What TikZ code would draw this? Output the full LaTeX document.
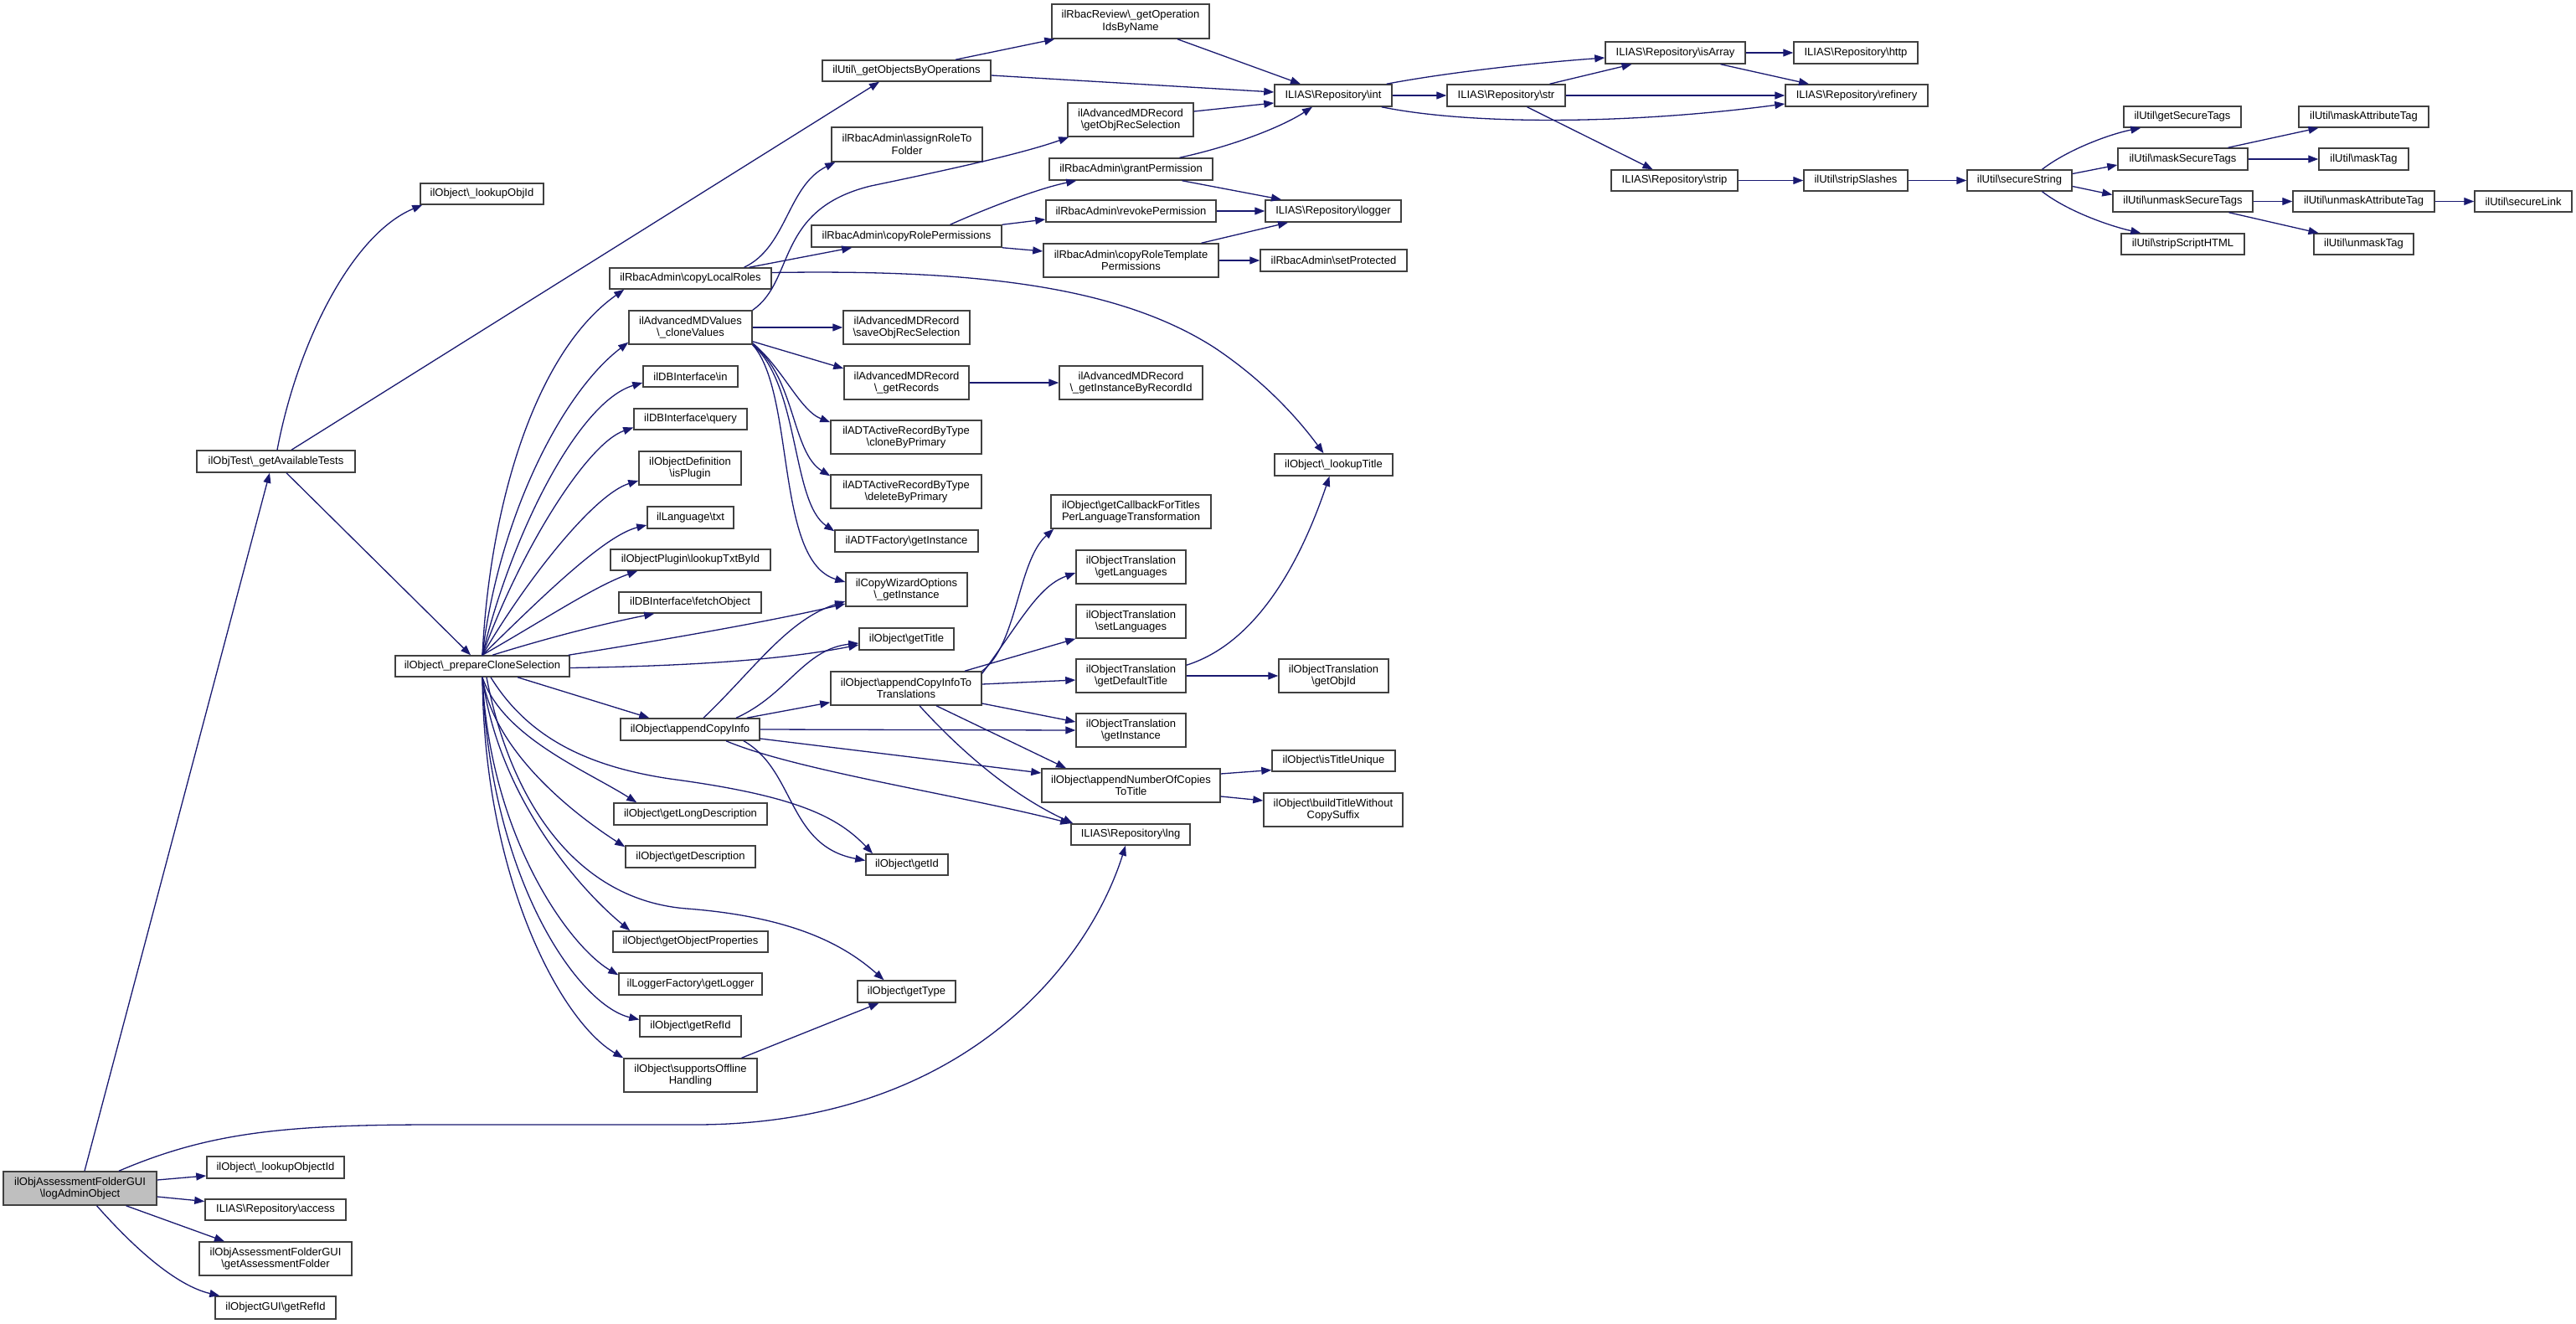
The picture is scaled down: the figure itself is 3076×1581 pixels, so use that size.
\documentclass[tikz,border=0pt]{standalone}
\usepackage{fontspec}
\setmainfont{Liberation Sans}
\usetikzlibrary{arrows.meta}
\definecolor{edgec}{HTML}{191970}
\definecolor{boxc}{HTML}{404040}
\definecolor{mainfill}{HTML}{BFBFBF}
\newcommand\nodefont{\fontsize{13}{14.5}\selectfont}
\newcommand\bs{\textbackslash}
\tikzset{
  box/.style={draw=boxc, line width=1.5pt, fill=white, inner sep=0pt, align=center, font=\nodefont},
  mainbox/.style={box, fill=mainfill},
  e/.style={draw=edgec, line width=1.3pt, -{Triangle[length=12pt,width=9pt]}},
}
\newcommand\mk[7][box]{%
  \pgfmathsetmacro\mkcx{(#3+#5)/2}%
  \pgfmathsetmacro\mkcy{-(#4+#6)/2}%
  \pgfmathsetmacro\mkw{#5-#3}%
  \pgfmathsetmacro\mkh{#6-#4}%
  \node[#1,minimum width=\mkw pt,minimum height=\mkh pt] (#2) at (\mkcx,\mkcy) {#7};}
\begin{document}
\begin{tikzpicture}[x=1pt,y=1pt]
\useasboundingbox (0,0) rectangle (3076,-1581);
% nodes
\mk[mainbox]{main}{4}{1399}{187}{1439}{ilObjAssessmentFolderGUI\\\bs logAdminObject}
\mk{loi}{247}{1381}{411}{1407}{ilObject\bs\_lookupObjectId}
\mk{acc}{245}{1432}{413}{1457}{ILIAS\bs Repository\bs access}
\mk{gaf}{238}{1483}{420}{1523}{ilObjAssessmentFolderGUI\\\bs getAssessmentFolder}
\mk{guir}{257}{1548}{401}{1575}{ilObjectGUI\bs getRefId}
\mk{gat}{235}{538}{424}{564}{ilObjTest\bs\_getAvailableTests}
\mk{loid}{502}{219}{649}{244}{ilObject\bs\_lookupObjId}
\mk{pc}{472}{783}{680}{808}{ilObject\bs\_prepareCloneSelection}
\mk{gobo}{982}{72}{1183}{97}{ilUtil\bs\_getObjectsByOperations}
\mk{goid}{1256}{5}{1444}{46}{ilRbacReview\bs\_getOperation\\IdsByName}
\mk{int}{1522}{101}{1662}{127}{ILIAS\bs Repository\bs int}
\mk{str}{1728}{101}{1869}{127}{ILIAS\bs Repository\bs str}
\mk{isarr}{1917}{50}{2084}{76}{ILIAS\bs Repository\bs isArray}
\mk{http}{2142}{50}{2290}{76}{ILIAS\bs Repository\bs http}
\mk{ref}{2132}{101}{2302}{127}{ILIAS\bs Repository\bs refinery}
\mk{strip}{1924}{203}{2075}{228}{ILIAS\bs Repository\bs strip}
\mk{ssl}{2154}{203}{2278}{228}{ilUtil\bs stripSlashes}
\mk{sst}{2349}{203}{2474}{228}{ilUtil\bs secureString}
\mk{gst}{2536}{127}{2676}{152}{ilUtil\bs getSecureTags}
\mk{mst}{2529}{177}{2684}{203}{ilUtil\bs maskSecureTags}
\mk{mat}{2745}{127}{2900}{152}{ilUtil\bs maskAttributeTag}
\mk{mtag}{2769}{177}{2876}{203}{ilUtil\bs maskTag}
\mk{ust}{2523}{228}{2690}{253}{ilUtil\bs unmaskSecureTags}
\mk{uat}{2738}{228}{2907}{253}{ilUtil\bs unmaskAttributeTag}
\mk{slink}{2955}{228}{3071}{253}{ilUtil\bs secureLink}
\mk{ssh}{2533}{279}{2680}{304}{ilUtil\bs stripScriptHTML}
\mk{utag}{2763}{279}{2882}{304}{ilUtil\bs unmaskTag}
\mk{gors}{1275}{123}{1425}{163}{ilAdvancedMDRecord\\\bs getObjRecSelection}
\mk{artf}{993}{152}{1173}{193}{ilRbacAdmin\bs assignRoleTo\\Folder}
\mk{gp}{1253}{189}{1448}{215}{ilRbacAdmin\bs grantPermission}
\mk{rp}{1249}{239}{1452}{265}{ilRbacAdmin\bs revokePermission}
\mk{log}{1511}{239}{1673}{265}{ILIAS\bs Repository\bs logger}
\mk{crp}{969}{269}{1196}{295}{ilRbacAdmin\bs copyRolePermissions}
\mk{crtp}{1246}{291}{1455}{331}{ilRbacAdmin\bs copyRoleTemplate\\Permissions}
\mk{sp}{1505}{298}{1680}{324}{ilRbacAdmin\bs setProtected}
\mk{clr}{728}{320}{921}{345}{ilRbacAdmin\bs copyLocalRoles}
\mk{cv}{751}{371}{898}{411}{ilAdvancedMDValues\\\bs\_cloneValues}
\mk{sors}{1007}{371}{1158}{411}{ilAdvancedMDRecord\\\bs saveObjRecSelection}
\mk{grec}{1008}{437}{1157}{477}{ilAdvancedMDRecord\\\bs\_getRecords}
\mk{gibr}{1265}{437}{1436}{477}{ilAdvancedMDRecord\\\bs\_getInstanceByRecordId}
\mk{dbin}{768}{437}{881}{462}{ilDBInterface\bs in}
\mk{dbq}{757}{488}{892}{513}{ilDBInterface\bs query}
\mk{isp}{763}{539}{885}{579}{ilObjectDefinition\\\bs isPlugin}
\mk{ltxt}{773}{605}{876}{631}{ilLanguage\bs txt}
\mk{ltbi}{729}{656}{920}{681}{ilObjectPlugin\bs lookupTxtById}
\mk{fo}{739}{707}{909}{732}{ilDBInterface\bs fetchObject}
\mk{cbp}{992}{502}{1172}{542}{ilADTActiveRecordByType\\\bs cloneByPrimary}
\mk{dbp}{992}{567}{1172}{607}{ilADTActiveRecordByType\\\bs deleteByPrimary}
\mk{adtf}{997}{633}{1168}{659}{ilADTFactory\bs getInstance}
\mk{cwo}{1010}{684}{1155}{724}{ilCopyWizardOptions\\\bs\_getInstance}
\mk{gt}{1026}{750}{1139}{776}{ilObject\bs getTitle}
\mk{acit}{992}{802}{1172}{842}{ilObject\bs appendCopyInfoTo\\Translations}
\mk{aci}{741}{858}{907}{884}{ilObject\bs appendCopyInfo}
\mk{gcb}{1255}{591}{1446}{631}{ilObject\bs getCallbackForTitles\\PerLanguageTransformation}
\mk{glang}{1285}{657}{1416}{697}{ilObjectTranslation\\\bs getLanguages}
\mk{slang}{1285}{722}{1416}{762}{ilObjectTranslation\\\bs setLanguages}
\mk{gdt}{1285}{787}{1416}{827}{ilObjectTranslation\\\bs getDefaultTitle}
\mk{otgi}{1285}{852}{1416}{892}{ilObjectTranslation\\\bs getInstance}
\mk{gobj}{1527}{787}{1658}{827}{ilObjectTranslation\\\bs getObjId}
\mk{anc}{1244}{918}{1457}{958}{ilObject\bs appendNumberOfCopies\\ToTitle}
\mk{itu}{1519}{896}{1666}{921}{ilObject\bs isTitleUnique}
\mk{btw}{1509}{947}{1675}{987}{ilObject\bs buildTitleWithout\\CopySuffix}
\mk{lng}{1279}{984}{1421}{1009}{ILIAS\bs Repository\bs lng}
\mk{gld}{733}{959}{916}{985}{ilObject\bs getLongDescription}
\mk{gd}{747}{1010}{902}{1036}{ilObject\bs getDescription}
\mk{gid}{1034}{1020}{1132}{1045}{ilObject\bs getId}
\mk{gop}{732}{1112}{917}{1137}{ilObject\bs getObjectProperties}
\mk{glog}{739}{1162}{910}{1188}{ilLoggerFactory\bs getLogger}
\mk{gty}{1024}{1171}{1141}{1197}{ilObject\bs getType}
\mk{grid}{764}{1213}{885}{1238}{ilObject\bs getRefId}
\mk{sofh}{745}{1264}{904}{1304}{ilObject\bs supportsOffline\\Handling}
\mk{lt}{1522}{542}{1663}{568}{ilObject\bs\_lookupTitle}
% edges from main
\draw[e] ([xshift=5.5pt]main.north) -- ([xshift=-7.5pt]gat.south);
\draw[e] ([xshift=46.5pt]main.north) .. controls (250,-1352) and (340,-1343) .. (520,-1343) -- (830,-1343) .. controls (1150,-1343) and (1300,-1150) .. ([xshift=-6pt]lng.south);
\draw[e] ([yshift=10pt]main.east) -- ([yshift=-10pt]loi.west);
\draw[e] ([yshift=-10pt]main.east) -- ([yshift=10pt]acc.west);
\draw[e] ([xshift=55pt]main.south) -- ([xshift=-61pt]gaf.north);
\draw[e] ([xshift=20pt]main.south) .. controls (160,-1490) and (210,-1535) .. ([xshift=6pt]guir.north west);
% getAvailableTests
\draw[e] ([xshift=1.5pt]gat.north) .. controls (355,-410) and (420,-280) .. ([xshift=3pt]loid.south west);
\draw[e] ([xshift=18.5pt]gat.north) -- ([xshift=-32.5pt]gobo.south);
\draw[e] ([xshift=12.5pt]gat.south) -- ([xshift=-14pt]pc.north);
% getObjectsByOperations
\draw[e] ([xshift=58.5pt]gobo.north) -- ([xshift=4pt]goid.south west);
\draw[e] ([yshift=-5.5pt]gobo.east) -- ([yshift=4pt]int.west);
\draw[e] ([xshift=56pt]goid.south) -- ([xshift=-39pt]int.north);
% Repository
\draw[e] (int.east) -- (str.west);
\draw[e] ([xshift=-7pt]int.north east) .. controls (1720,-88) and (1820,-76) .. ([yshift=-6pt]isarr.west);
\draw[e] ([xshift=-13pt]int.south east) .. controls (1760,-150) and (1950,-148) .. ([yshift=-10pt]ref.west);
\draw[e] ([xshift=52pt]str.north) -- ([xshift=-52pt]isarr.south);
\draw[e] (str.east) -- (ref.west);
\draw[e] ([xshift=25pt]str.south) -- ([xshift=-26pt]strip.north);
\draw[e] (isarr.east) -- (http.west);
\draw[e] ([xshift=54pt]isarr.south) -- ([xshift=-57pt]ref.north);
\draw[e] (strip.east) -- (ssl.west);
\draw[e] (ssl.east) -- (sst.west);
% secureString
\draw[e] ([xshift=27pt]sst.north) .. controls (2470,-178) and (2520,-160) .. ([xshift=21pt]gst.south west);
\draw[e] ([yshift=8pt]sst.east) -- ([yshift=-7pt]mst.west);
\draw[e] ([yshift=-7pt]sst.east) -- ([yshift=8pt]ust.west);
\draw[e] ([xshift=27pt]sst.south) .. controls (2470,-253) and (2520,-270) .. ([xshift=24pt]ssh.north west);
\draw[e] ([xshift=54pt]mst.north) -- ([xshift=-54pt]mat.south);
\draw[e] (mst.east) -- (mtag.west);
\draw[e] (ust.east) -- (uat.west);
\draw[e] ([xshift=55pt]ust.south) -- ([xshift=-54pt]utag.north);
\draw[e] (uat.east) -- (slink.west);
% rbac
\draw[e] ([yshift=10pt]gors.east) -- ([yshift=-9pt]int.west);
\draw[e] ([xshift=58pt]gp.north) .. controls (1470,-175) and (1530,-152) .. ([xshift=-25pt]int.south);
\draw[e] ([xshift=61pt]gp.south) -- ([xshift=-62pt]log.north);
\draw[e] (rp.east) -- (log.west);
\draw[e] ([xshift=52pt]crp.north) .. controls (1180,-248) and (1240,-225) .. ([xshift=33pt]gp.south west);
\draw[e] (crp.north east) -- ([yshift=-10pt]rp.west);
\draw[e] (crp.south east) -- ([yshift=11pt]crtp.west);
\draw[e] ([xshift=84pt]crtp.north) -- ([xshift=-54pt]log.south);
\draw[e] (crtp.east) -- (sp.west);
\draw[e] ([xshift=64pt]clr.north) .. controls (940,-295) and (940,-222) .. ([xshift=5pt]artf.south west);
\draw[e] ([xshift=70pt]clr.north) -- ([xshift=49pt]crp.south west);
\draw[e] ([yshift=7pt]clr.east) .. controls (1150,-322) and (1330,-338) .. (1450,-415) .. controls (1510,-455) and (1550,-500) .. ([xshift=-12pt]lt.north);
% cloneValues
\draw[e] (cv.north east) .. controls (950,-335) and (925,-250) .. (1040,-222) .. controls (1170,-195) and (1230,-180) .. ([xshift=2pt]gors.south west);
\draw[e] (cv.east) -- (sors.west);
\draw[e] ([yshift=4pt]cv.south east) -- ([yshift=17pt]grec.west);
\draw[e] ([yshift=2pt]cv.south east) .. controls (935,-440) and (955,-490) .. ([yshift=-3pt]cbp.north west);
\draw[e] (cv.south east) .. controls (950,-450) and (945,-540) .. ([yshift=-2pt]dbp.north west);
\draw[e] (cv.south east) .. controls (955,-460) and (945,-600) .. ([yshift=-2pt]adtf.north west);
\draw[e] (cv.south east) .. controls (950,-470) and (925,-670) .. ([yshift=9pt]cwo.west);
\draw[e] (grec.east) -- (gibr.west);
% prepareCloneSelection fan up
\draw[e] (pc.north) .. controls (585,-600) and (640,-420) .. ([xshift=18pt]clr.south west);
\draw[e] (pc.north) .. controls (595,-620) and (670,-470) .. ([yshift=3pt]cv.south west);
\draw[e] (pc.north) .. controls (610,-640) and (690,-480) .. ([yshift=-7.5pt]dbin.west);
\draw[e] (pc.north) .. controls (620,-660) and (700,-530) .. ([yshift=-10pt]dbq.west);
\draw[e] (pc.north) .. controls (630,-690) and (710,-590) .. ([yshift=-15pt]isp.west);
\draw[e] (pc.north) .. controls (640,-720) and (720,-640) .. ([yshift=-9pt]ltxt.west);
\draw[e] (pc.north) .. controls (650,-740) and (710,-700) .. ([xshift=33pt]ltbi.south west);
\draw[e] ([xshift=12pt]pc.north) .. controls (660,-760) and (720,-745) .. ([xshift=43pt]fo.south west);
\draw[e] ([xshift=-2pt]pc.north east) .. controls (850,-755) and (950,-735) .. ([yshift=-17pt]cwo.west);
\draw[e] ([yshift=-2pt]pc.east) .. controls (850,-795) and (950,-785) .. ([yshift=-7pt]gt.west);
% fan down
\draw[e] ([xshift=42pt]pc.south) -- ([xshift=35pt]aci.north west);
\draw[e] (pc.south) .. controls (600,-880) and (700,-920) .. ([xshift=28pt]gld.north west);
\draw[e] (pc.south) .. controls (590,-900) and (690,-975) .. ([yshift=-2pt]gd.north west);
\draw[e] (pc.south) .. controls (595,-950) and (690,-1060) .. ([xshift=21pt]gop.north west);
\draw[e] (pc.south) .. controls (585,-1000) and (680,-1130) .. ([yshift=-3pt]glog.north west);
\draw[e] (pc.south) .. controls (585,-1050) and (690,-1200) .. ([yshift=8pt]grid.west);
\draw[e] (pc.south) .. controls (578,-1050) and (670,-1220) .. (sofh.north west);
\draw[e] ([xshift=10pt]pc.south) .. controls (630,-880) and (700,-915) .. (800,-930) .. controls (950,-950) and (1000,-975) .. ([xshift=-41pt]gid.north);
\draw[e] ([xshift=5pt]pc.south) .. controls (610,-960) and (690,-1075) .. (820,-1085) .. controls (950,-1095) and (1010,-1130) .. ([xshift=-27pt]gty.north);
% appendCopyInfo
\draw[e] ([xshift=16pt]aci.north) .. controls (900,-800) and (940,-740) .. ([yshift=-14pt]cwo.west);
\draw[e] ([xshift=55pt]aci.north) .. controls (940,-830) and (960,-775) .. ([yshift=-5pt]gt.west);
\draw[e] ([xshift=-16pt]aci.north east) -- ([yshift=4pt]acit.south west);
\draw[e] (aci.east) -- (otgi.west);
\draw[e] ([yshift=-11pt]aci.east) -- ([yshift=15pt]anc.west);
\draw[e] ([xshift=43pt]aci.south) .. controls (950,-920) and (1150,-950) .. (lng.north west);
\draw[e] ([xshift=64pt]aci.south) .. controls (950,-920) and (940,-1010) .. ([yshift=5pt]gid.west);
% appendCopyInfoToTranslations
\draw[e] (acit.north east) .. controls (1215,-770) and (1215,-670) .. ([xshift=4pt]gcb.south west);
\draw[e] ([yshift=-3pt]acit.north east) .. controls (1220,-740) and (1240,-700) .. ([yshift=-7pt]glang.west);
\draw[e] ([xshift=70pt]acit.north) -- (slang.south west);
\draw[e] ([yshift=5pt]acit.east) -- ([yshift=-5pt]gdt.west);
\draw[e] ([yshift=-18pt]acit.east) -- ([yshift=10pt]otgi.west);
\draw[e] ([xshift=36pt]acit.south) -- ([xshift=-77.5pt]anc.north);
\draw[e] ([xshift=16pt]acit.south) .. controls (1150,-900) and (1210,-950) .. ([xshift=3pt]lng.north west);
% others
\draw[e] ([yshift=-8pt]gdt.north east) .. controls (1510,-765) and (1560,-650) .. ([xshift=-5pt]lt.south);
\draw[e] (gdt.east) -- (gobj.west);
\draw[e] ([yshift=14pt]anc.east) -- ([yshift=-11pt]itu.west);
\draw[e] ([yshift=-13pt]anc.east) -- ([yshift=11pt]btw.west);
\draw[e] ([xshift=61pt]sofh.north) -- ([xshift=-33pt]gty.south);
\end{tikzpicture}
\end{document}
